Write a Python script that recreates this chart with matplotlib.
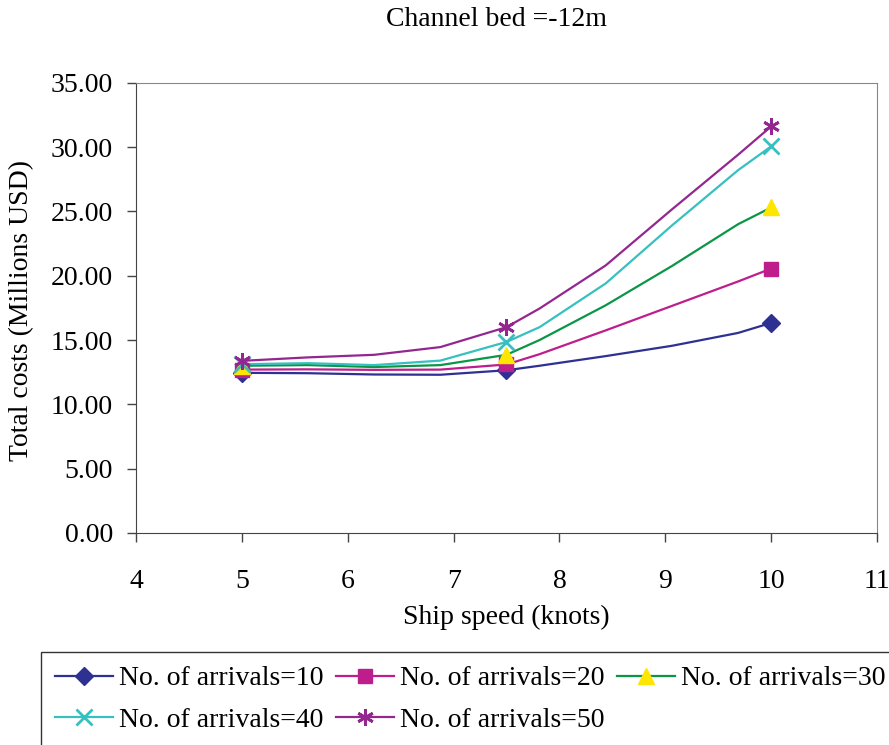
import matplotlib.pyplot as plt
from matplotlib.patches import Rectangle

# Ship speed (knots) at the points of each curve; markers only at 5, 7.5 and 10
SPEED = [5, 5.625, 6.25, 6.875, 7.5, 7.8125, 8.4375, 9.0625, 9.6875, 10]

COST_10 = [12.45, 12.42, 12.32, 12.30, 12.65, 13.00, 13.75, 14.55, 15.55, 16.33]
COST_20 = [12.70, 12.72, 12.68, 12.70, 13.10, 13.90, 15.75, 17.65, 19.55, 20.55]
COST_30 = [13.00, 13.05, 12.90, 13.05, 13.85, 15.00, 17.70, 20.75, 24.00, 25.30]
COST_40 = [13.12, 13.20, 13.05, 13.40, 14.85, 16.00, 19.40, 23.90, 28.20, 30.05]
COST_50 = [13.38, 13.65, 13.85, 14.45, 16.00, 17.45, 20.80, 25.15, 29.40, 31.60]

LABELS = ["No. of arrivals=10", "No. of arrivals=20", "No. of arrivals=30",
          "No. of arrivals=40", "No. of arrivals=50"]

plt.rcParams["font.family"] = ["Liberation Serif", "DejaVu Serif"]
plt.rcParams["font.size"] = 20

fig = plt.figure(figsize=(8.89, 7.45), dpi=100)
ax = fig.add_axes([136 / 889, 1 - 533 / 745, (877 - 136) / 889, (533 - 82.7) / 745])

marks = [0, 4, 9]
h1, = ax.plot(SPEED, COST_10, color="#2E3192", lw=1.6, marker="D", ms=9,
              markevery=marks, label=LABELS[0])
h2, = ax.plot(SPEED, COST_20, color="#BE1E8C", lw=1.6, marker="s", ms=10,
              markevery=marks, label=LABELS[1])
h3, = ax.plot(SPEED, COST_30, color="#0A9647", lw=1.6, marker="^", ms=12,
              markerfacecolor="#FFE600", markeredgecolor="#FFE600",
              markevery=marks, label=LABELS[2])
h4, = ax.plot(SPEED, COST_40, color="#36C0BF", lw=1.6, marker="x", ms=11, mew=2,
              markevery=marks, label=LABELS[3])
h5, = ax.plot(SPEED, COST_50, color="#93278F", lw=1.6, marker=(6, 2, 0), ms=12, mew=2,
              markevery=marks, label=LABELS[4])

ax.set_xlim(4, 11)
ax.set_ylim(0, 35)
ax.set_xticks(range(4, 12))
ax.set_yticks([0, 5, 10, 15, 20, 25, 30, 35])
ax.set_yticklabels([f"{v:.2f}" for v in [0, 5, 10, 15, 20, 25, 30, 35]])
ax.tick_params(direction="out", length=6.5, width=1, color="#444444")
ax.tick_params(axis="x", pad=19.5)
ax.tick_params(axis="y", pad=10)

for side in ["left", "bottom"]:
    ax.spines[side].set_color("#444444")
for side in ["top", "right"]:
    ax.spines[side].set_color("#888888")

fig.text(497 / 889, 1 - 20 / 745, "Channel bed =-12m", ha="center", va="center")
fig.text(506 / 889, 1 - 617 / 745, "Ship speed (knots)", ha="center", va="center")
fig.text(22 / 889, 1 - 310 / 745, "Total costs (Millions USD)", ha="center",
         va="center", rotation=90)

# legend box runs off the bottom and right edges in the reference
fig.patches.append(Rectangle((41 / 889, -0.05), 1.0, 1 - 652 / 745 + 0.05,
                             transform=fig.transFigure, fill=False,
                             edgecolor="#333333", lw=1))
# column-major fill, so order handles to read row by row
fig.legend(handles=[h1, h4, h2, h5, h3], loc="upper left",
           bbox_to_anchor=(55 / 889, 1 - 666 / 745), ncol=3, frameon=False,
           handlelength=2.1, handletextpad=0.2, columnspacing=0.45,
           labelspacing=0.57, borderaxespad=0, borderpad=0)

fig.savefig("out.png", dpi=100)
